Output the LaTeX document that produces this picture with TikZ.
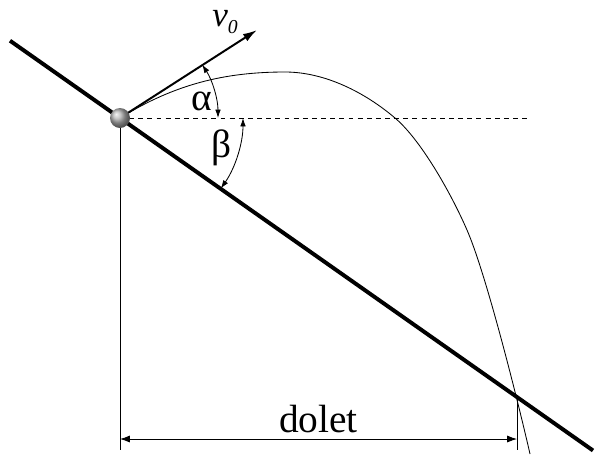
\documentclass[tikz,border=0pt]{standalone}
\usepackage{fontspec}
\setmainfont{Liberation Serif}
\newfontfamily\tms{Liberation Serif}
\usetikzlibrary{arrows.meta, positioning, calc}

\begin{document}
\begin{tikzpicture}[x=0.025cm, y=-0.025cm,
    slope/.style={line width=2.8pt},
    guide/.style={line width=0.6pt},
    horiz/.style={line width=0.6pt, dash pattern=on 3.5pt off 3pt},
    path/.style={line width=0.6pt},
    vel/.style={line width=1.4pt, -{Latex[length=10pt, width=6pt]}},
    angarc/.style={line width=0.6pt, {Latex[length=6pt, width=4pt]}-{Latex[length=6pt, width=4pt]}},
    dim/.style={line width=0.6pt, {Latex[length=7pt, width=5pt]}-{Latex[length=7pt, width=5pt]}},
    lbl/.style={font=\tms\fontsize{28}{30}\selectfont, inner sep=0pt},
    ball/.style={circle, minimum size=0.5cm, inner sep=0pt, shading=ball, ball color=gray!60}
  ]
  \useasboundingbox (0,0) rectangle (596,454);

  % points of the figure
  \coordinate (c) at (120,118);
  \coordinate (top) at (10,40.7);
  \coordinate (bot) at (593,450.5);
  \coordinate (peak) at (285,72);
  \coordinate (cross) at (395,118);
  \coordinate (fall) at (467,230);
  \coordinate (land) at (517,397);
  \coordinate (tail) at (530,454);
  \coordinate (vtip) at (257,30);
  \coordinate (hend) at (530,118);
  \coordinate (cfoot) at (120,450);
  \coordinate (lfoot) at (517,450);
  \coordinate (dl) at (120,439);
  \coordinate (dr) at (517,439);

  % incline and guides
  \draw[slope] (top) -- (bot);
  \draw[horiz] (c) -- (hend);
  \draw[guide] (c) -- (cfoot);
  \draw[guide] (land) -- (lfoot);

  % trajectory
  \draw[path] (c) .. controls (175,84) and (225,72) .. (peak)
    .. controls (325,72) and (365,92.5) .. (cross)
    .. controls (420,139) and (450,191) .. (fall)
    .. controls (487,276) and (520,410) .. (tail);

  % velocity and angles
  \draw[vel] (c) -- (vtip);
  \draw[angarc] ($(c)+(98,0)$) arc[start angle=0, end angle=-33, radius=98];
  \draw[angarc] ($(c)+(123,0)$) arc[start angle=0, end angle=35, radius=123];

  % range
  \draw[dim] (dl) -- node[lbl, above=0.15cm] (range) {dolet} (dr);

  \node[ball] (ball) at (c) {};
  \node[lbl] (alpha) at (202,101) {α};
  \node[lbl] (beta) at (222,148) {β};
  \node[anchor=base west, inner sep=0pt, font=\tms] (vlabel) at (212,26)
    {{\fontsize{25}{25}\selectfont\itshape v}\raisebox{-5.5pt}{\fontsize{14}{14}\selectfont\itshape 0}};
\end{tikzpicture}
\end{document}
